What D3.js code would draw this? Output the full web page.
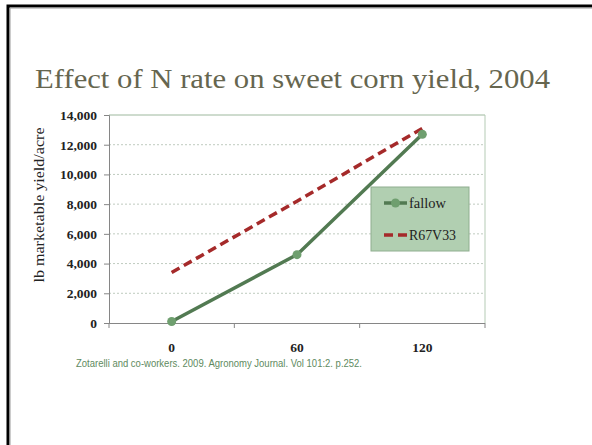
<!DOCTYPE html>
<html><head><meta charset="utf-8">
<script src="https://cdn.jsdelivr.net/npm/d3@7"></script>
<style>body{margin:0;background:#fff}svg{display:block}</style>
</head><body>
<svg id="c" width="592" height="445"></svg>
<script>
const categories = ["0", "60", "120"];
const fallow = [100, 4600, 12700];
const r67v33 = [3400, 8200, 13100];
const yTicks = [0, 2000, 4000, 6000, 8000, 10000, 12000, 14000];
const seriesNames = ["fallow", "R67V33"];

const svg = d3.select("#c");
// slide frame
svg.append("path").attr("d","M8,445 V6 H592").attr("fill","none").attr("stroke","#000").attr("stroke-width",3);
svg.append("path").attr("d","M10,445 V8 H592").attr("fill","none").attr("stroke","#999").attr("stroke-width",1);

svg.append("text").attr("x",35).attr("y",88).text("Effect of N rate on sweet corn yield, 2004")
  .attr("font-family","Liberation Serif, serif").attr("font-size",27).attr("fill","#66664f")
  .attr("textLength",515).attr("lengthAdjust","spacingAndGlyphs");

const L=109, R=485, T=115, B=323;
const x = d3.scaleBand().domain(categories).range([L,R]);
const y = d3.scaleLinear().domain([0,14000]).range([B,T]);

// grid
svg.append("g").selectAll("line").data(yTicks.filter(d=>d>0)).join("line")
  .attr("x1",L).attr("x2",R).attr("y1",d=>y(d)).attr("y2",d=>y(d))
  .attr("stroke",d=>d===14000?"#9db89d":"#bfcbbf").attr("stroke-width",1)
  .attr("stroke-dasharray",d=>d===14000?null:"2,2");
svg.append("line").attr("x1",R).attr("x2",R).attr("y1",T).attr("y2",B).attr("stroke","#b5cbb5");

const fmt = d3.format(",");
const yAxis = svg.append("g").attr("transform",`translate(${L},0)`)
  .call(d3.axisLeft(y).tickValues(yTicks).tickFormat(fmt).tickSize(5).tickPadding(7));
yAxis.select(".domain").attr("stroke","#868686");
yAxis.selectAll(".tick line").attr("stroke","#868686");
yAxis.selectAll("text").attr("font-family","Liberation Serif, serif").attr("font-size",13.5).attr("font-weight","bold").attr("fill","#222");

const xAxis = svg.append("g").attr("transform",`translate(0,${B})`)
  .call(d3.axisBottom(x).tickSize(0).tickPadding(19));
xAxis.select(".domain").attr("stroke","#868686").attr("d",`M${L},0.5H${R}`);
xAxis.selectAll("text").attr("font-family","Liberation Serif, serif").attr("font-size",13.5).attr("font-weight","bold").attr("fill","#222");
const edges = [L, ...categories.map(c=>x(c)+x.bandwidth())];
xAxis.append("g").selectAll("line").data(edges).join("line")
  .attr("x1",d=>d).attr("x2",d=>d).attr("y1",0).attr("y2",5).attr("stroke","#868686");

svg.append("text").attr("transform","translate(44,205) rotate(-90)").attr("text-anchor","middle")
  .attr("font-family","Liberation Serif, serif").attr("font-size",14).attr("fill","#222")
  .attr("textLength",155).attr("lengthAdjust","spacingAndGlyphs")
  .text("lb marketable yield/acre");

const cx = c => x(c)+x.bandwidth()/2;
const line = d3.line().x((d,i)=>cx(categories[i])).y(d=>y(d));
svg.append("path").datum(r67v33).attr("d",line).attr("fill","none")
  .attr("stroke","#a52a2a").attr("stroke-width",3.5).attr("stroke-dasharray","9,5");
svg.append("path").datum(fallow).attr("d",line).attr("fill","none")
  .attr("stroke","#527a52").attr("stroke-width",3.5);
svg.append("g").selectAll("circle").data(fallow).join("circle")
  .attr("cx",(d,i)=>cx(categories[i])).attr("cy",d=>y(d)).attr("r",4.5).attr("fill","#6f9f6f");

// legend
const lg = svg.append("g");
lg.append("rect").attr("x",371).attr("y",187).attr("width",98).attr("height",64)
  .attr("fill","#b1cfb1").attr("stroke","#8fae8f");
lg.append("line").attr("x1",384).attr("x2",407).attr("y1",203).attr("y2",203).attr("stroke","#527a52").attr("stroke-width",3.5);
lg.append("circle").attr("cx",395.5).attr("cy",203).attr("r",4.5).attr("fill","#6f9f6f");
lg.append("line").attr("x1",384).attr("x2",407).attr("y1",235).attr("y2",235).attr("stroke","#a52a2a").attr("stroke-width",3.5).attr("stroke-dasharray","9,5");
lg.selectAll("text.l").data(seriesNames).join("text").attr("class","l")
  .attr("x",409).attr("y",(d,i)=>208+i*32).text(d=>d)
  .attr("font-family","Liberation Serif, serif").attr("font-size",15).attr("fill","#222")
  .attr("textLength",(d,i)=>i===0?37:47).attr("lengthAdjust","spacingAndGlyphs");

svg.append("text").attr("x",76).attr("y",367).text("Zotarelli and co-workers. 2009. Agronomy Journal. Vol 101:2. p.252.")
  .attr("font-family","Liberation Sans Narrow, Liberation Sans, sans-serif").attr("font-size",10.5).attr("fill","#5e8a5e")
  .attr("textLength",286).attr("lengthAdjust","spacingAndGlyphs");
</script>
</body></html>
